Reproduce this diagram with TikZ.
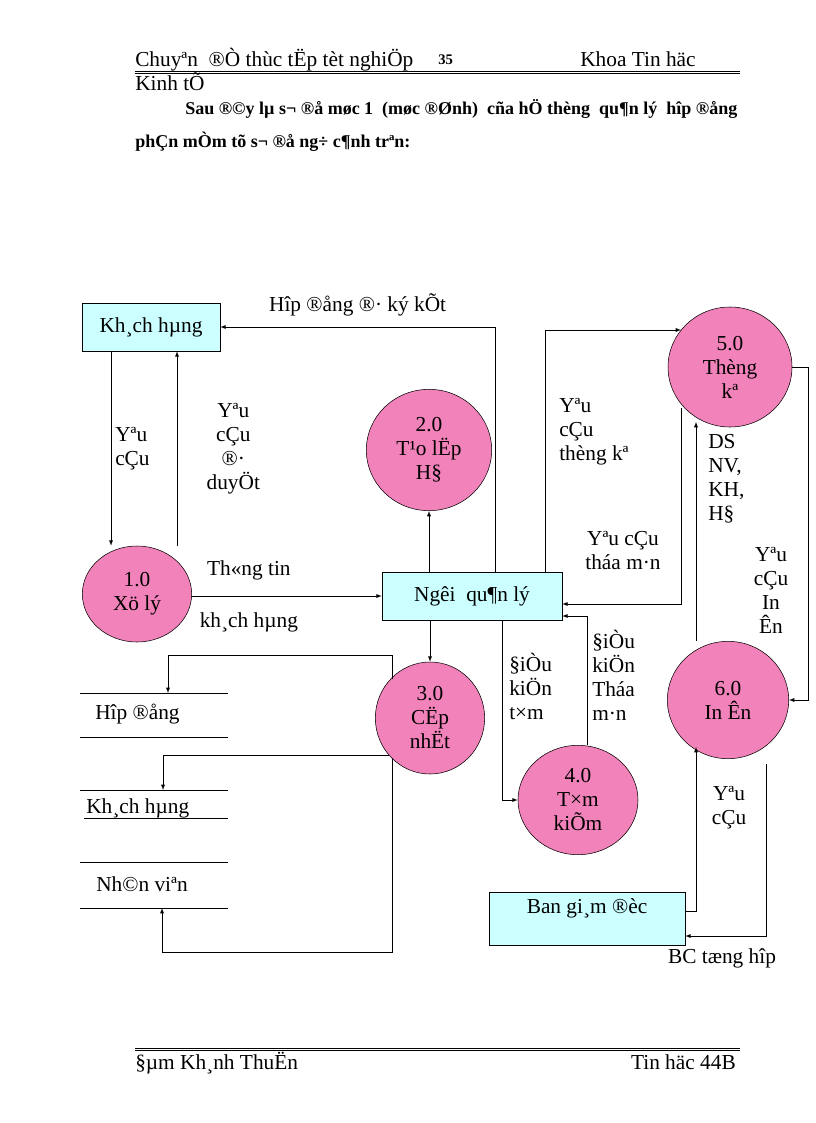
\documentclass[tikz,border=0pt]{standalone}
\usepackage{fontspec}
\setmainfont{Liberation Serif}
\usetikzlibrary{shapes.geometric, arrows, positioning, calc}
\definecolor{procpink}{RGB}{242,130,186}
\definecolor{boxcyan}{RGB}{204,255,255}
\tikzset{
  proc/.style={draw, fill=procpink, ellipse, inner sep=0pt, align=center, font=\fontsize{16}{18}\selectfont},
  ent/.style={draw, fill=boxcyan, rectangle, inner sep=0pt, align=center, font=\fontsize{16}{18}\selectfont},
  arr/.style={->, >=latex},
  lbl/.style={font=\fontsize{16}{18}\selectfont, inner sep=0pt},
  store/.style={draw=none, font=\fontsize{16}{18}\selectfont, inner sep=0pt, anchor=west}
}
\begin{document}
\begin{tikzpicture}[x=0.75pt, y=-0.75pt]
        \useasboundingbox (0,0) rectangle (816,1123);
        % header and text
        \node [lbl, anchor=base west] (hd) at (135,67) {Chuyªn\ \ ®Ò thùc tËp tèt nghiÖp};
        \node [lbl, anchor=base west, font=\bfseries\fontsize{11}{13}\selectfont] (pg) at (438,65) {35};
        \node [lbl, anchor=base west] (hk) at (580,67) {Khoa Tin häc};
        \draw (135,71) -- (740,71); \draw (135,73.5) -- (740,73.5);
        \node [lbl, anchor=base west] (kt) at (135,91) {Kinh tÕ};
        \node [lbl, anchor=base west, font=\bfseries\fontsize{13.5}{15}\selectfont] (p1) at (185,115) {Sau ®©y lµ s¬ ®å møc 1 \ (møc ®Ønh) \ cña hÖ thèng \ qu¶n lý \ hîp ®ång};
        \node [lbl, anchor=base west, font=\bfseries\fontsize{13.5}{15}\selectfont] (p2) at (135,148) {phÇn mÒm tõ s¬ ®å ng÷ c¶nh trªn:};

        % entities and processes
        \node [ent, minimum width=103.5pt, minimum height=36pt] (KH) at (151,327) {Kh¸ch hµng};
        \node [ent, minimum width=135pt, minimum height=36pt] (NQ) at (472,596) {Ngêi\ \ qu¶n lý};
        \node [ent, minimum width=147pt, minimum height=40pt, text depth=20pt] (BG) at (587,919) {Ban gi¸m ®èc};
        \node [proc, minimum width=82pt, minimum height=72pt] (P1) at (137,594) {1.0\\Xö lý};
        \node [proc, minimum width=94pt, minimum height=91pt] (P2) at (429,450) {2.0\\T¹o lËp\\H§};
        \node [proc, minimum width=82pt, minimum height=84pt] (P3) at (430,718) {3.0\\CËp\\nhËt};
        \node [proc, minimum width=90pt, minimum height=82pt] (P4) at (578,800) {4.0\\T×m\\kiÕm};
        \node [proc, minimum width=93pt, minimum height=90pt] (P5) at (730,367) {5.0\\Thèng\\kª};
        \node [proc, minimum width=91pt, minimum height=88pt] (P6) at (728,700) {6.0\\In Ên};

        % data stores
        \draw (80,693) -- (228,693); \draw (80,737) -- (228,737);
        \node [store] (S1) at (95,714) {Hîp ®ång};
        \draw (80,790) -- (228,790); \draw (84,818) -- (228,818);
        \node [store] (S2) at (86,808) {Kh¸ch hµng};
        \draw (80,862) -- (228,862); \draw (80,908) -- (228,908);
        \node [store] (S3) at (96,884) {Nh©n viªn};
        \coordinate (S1t) at (168,693);
        \coordinate (S2t) at (163,790);
        \coordinate (S3b) at (162,908);

        % flows
        \coordinate (c1) at (495,330);
        \draw [arr] (NQ.north -| c1) |- (KH.east) node [lbl, pos=0.75, above=8pt] {Hîp ®ång ®· ký kÕt};
        \draw [arr] (KH.south -| 111,0) -- (P1.north -| 111,0) node [lbl, midway, right=3pt, align=left] {Yªu\\cÇu};
        \draw [arr] (P1.north -| 177,0) -- (KH.south -| 177,0) node [lbl, midway, right=22pt, align=center] {Yªu\\cÇu\\®·\\duyÖt};
        \draw [arr] (P1.east |- NQ.west) -- (NQ.west)
            node [lbl, pos=0.3, above=12pt] {Th«ng tin}
            node [lbl, pos=0.3, below=12pt] {kh¸ch hµng};
        \draw [arr] (NQ.north -| P2) -- (P2.south);
        \draw [arr] (NQ.south -| P3) -- (P3.north);

        \coordinate (c2) at (545,330);
        \coordinate (c2e) at (681,330);
        \draw [arr] (NQ.north -| c2) |- (c2e);
        \node [lbl, align=left, anchor=north west] (L1) at (559,398) {Yªu\\cÇu\\thèng kª};
        \coordinate (c3) at (681,408);
        \draw [arr] (c3) |- ([yshift=-6pt]NQ.east);
        \node [lbl, align=center] (L2) at (623,551) {Yªu cÇu\\tháa m·n};
        \draw [arr] (P4.north -| 587,0) |- ([yshift=-15pt]NQ.east);
        \node [lbl, align=left, anchor=north west] (L3) at (592,630) {§iÒu\\kiÖn\\Tháa\\m·n};
        \draw [arr] (NQ.south -| 502,0) |- (P4.west);
        \node [lbl, align=left, anchor=north west] (L4) at (509,653) {§iÒu\\kiÖn\\t×m};

        \coordinate (c4) at (808,367);
        \draw [arr] (P5.east) -- (c4) |- (P6.east);
        \node [lbl, align=center] (L5) at (771,590) {Yªu\\cÇu\\In\\Ên};
        \draw [arr] (P6.north -| 696,0) -- ([yshift=4pt]P5.south -| 696,0);
        \node [lbl, align=left, anchor=north west] (L6) at (708,434) {DS\\NV,\\KH,\\H§};
        \coordinate (c9) at (696,747);
        \draw [arr] ([yshift=6pt]BG.east) -| (c9);
        \node [lbl, align=center] (L7) at (729,808) {Yªu\\cÇu};
        \coordinate (c5) at (766,936);
        \draw [arr] ([yshift=-4pt]P6.south -| c5) -- (c5) -- (BG.east |- c5);
        \node [lbl] (L8) at (722,958) {BC tæng hîp};

        \coordinate (c6a) at (392,679);
        \coordinate (c6) at (392,655);
        \draw [arr] (c6a) -- (c6) -| (S1t);
        \coordinate (c7) at (389,755);
        \draw [arr] (c7) -| (S2t);
        \coordinate (c8a) at (392,758);
        \coordinate (c8) at (392,952);
        \draw [arr] (c8a) -- (c8) -| (S3b);

        % footer
        \draw (135,1048) -- (740,1048); \draw (135,1050.5) -- (740,1050.5);
        \node [lbl, anchor=base west] (fl) at (135,1069) {§µm Kh¸nh ThuËn};
        \node [lbl, anchor=base east] (fr) at (736,1069) {Tin häc 44B};
\end{tikzpicture}
\end{document}
